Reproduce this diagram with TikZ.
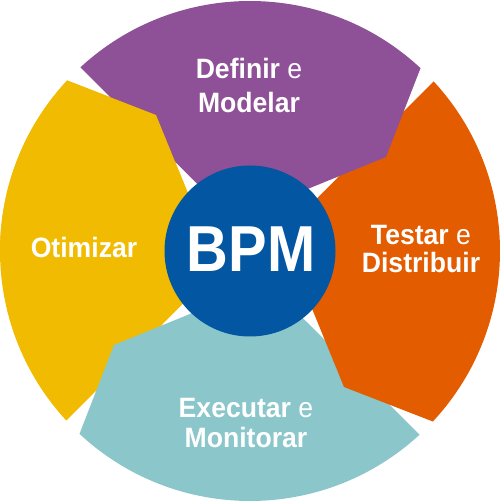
\documentclass[tikz,border=0pt]{standalone}
\usepackage{fontspec}
\setmainfont{Liberation Sans}
\definecolor{cpurple}{HTML}{8E5096}
\definecolor{corange}{HTML}{E35C00}
\definecolor{cyellow}{HTML}{F0BB00}
\definecolor{cteal}{HTML}{8BC6CA}
\definecolor{cblue}{HTML}{0256A2}
\newcommand\narrowtxt[1]{\scalebox{0.95}[1]{#1}}
\begin{document}
\begin{tikzpicture}[x=1pt,y=1pt,
  segshape/.style={insert path={(47:250) arc[start angle=47,end angle=132.7,radius=250] -- (0.5,13.8) -- (16,45) -- (136,94) -- cycle}},
  lbl/.style={text=white, font=\fontsize{28}{32}\selectfont, inner sep=0pt, anchor=base}]
\useasboundingbox (0,0) rectangle (500,502);
% segments: yellow, teal, orange, purple
\fill[cyellow] [shift={(250,251)}, rotate=90, segshape];
\fill[cteal] [shift={(250,251)}, rotate=180, segshape];
\fill[corange] [shift={(250,251)}, rotate=-90, segshape];
\fill[cpurple] [shift={(250,251)}, rotate=0, segshape];
\begin{scope}
  \clip (0,251) rectangle (250,502);
  \fill[cyellow] [shift={(250,251)}, rotate=90, segshape];
\end{scope}
% centre
\node[circle, fill=cblue, minimum size=171pt, inner sep=0pt] (core) at (250,251) {};
\node[anchor=base, text=white, inner sep=0pt, font=\fontsize{65}{70}\selectfont\bfseries] (bpm) at (251,230) {\scalebox{0.89}[1]{BPM}};
% labels
\node[lbl] (def1) at (249,423) {\narrowtxt{\textbf{Definir} e}};
\node[lbl] (def2) at (249,389) {\narrowtxt{\textbf{Modelar}}};
\node[lbl] (tes1) at (421,257) {\narrowtxt{\textbf{Testar} e}};
\node[lbl] (tes2) at (421,229) {\narrowtxt{\textbf{Distribuir}}};
\node[lbl] (exe1) at (246,84) {\narrowtxt{\textbf{Executar} e}};
\node[lbl] (exe2) at (246,54) {\narrowtxt{\textbf{Monitorar}}};
\node[lbl] (oti) at (84,244) {\narrowtxt{\textbf{Otimizar}}};
\end{tikzpicture}
\end{document}
